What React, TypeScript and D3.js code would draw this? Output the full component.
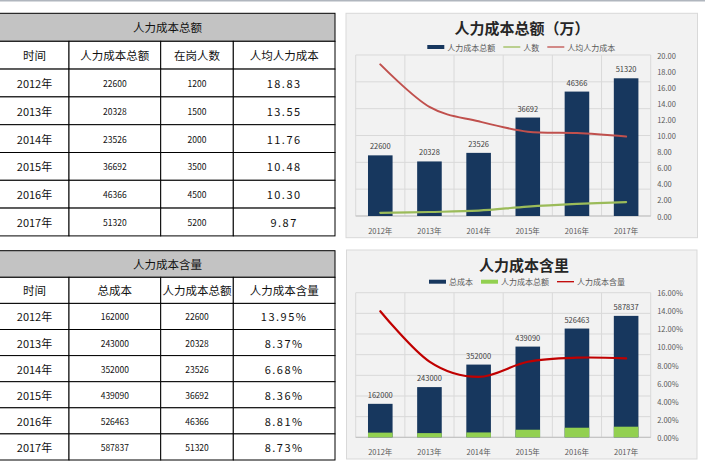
import React from "react";
import * as d3 from "d3";

const years = ["2012年", "2013年", "2014年", "2015年", "2016年", "2017年"];
const hrTotal = [22600, 20328, 23526, 36692, 46366, 51320];
const headcount = [1200, 1500, 2000, 3500, 4500, 5200];
const perCapita = [18.83, 13.55, 11.76, 10.48, 10.3, 9.87];
const totalCost = [162000, 243000, 352000, 439090, 526463, 587837];
const hrShare = [13.95, 8.37, 6.68, 8.36, 8.81, 8.73];

const table1Title = "人力成本总额";
const table1Headers = ["时间", "人力成本总额", "在岗人数", "人均人力成本"];
const table2Title = "人力成本含量";
const table2Headers = ["时间", "总成本", "人力成本总额", "人力成本含量"];

const chart1Title = "人力成本总额（万）";
const chart1Legend = ["人力成本总额", "人数", "人均人力成本"];
const chart2Title = "人力成本含里";
const chart2Legend = ["总成本", "人力成本总额", "人力成本含量"];

const FONT = "'Noto Sans CJK SC', 'Noto Sans', sans-serif";
const NAVY = "#17375e";
const OLIVE = "#9bbb59";
const GREEN = "#92d050";
const RED1 = "#c0504d";
const RED2 = "#c00000";
const GRID = "#d9d9d9";
const TXT = "#595959";

type Cell = { text: string; size: number; ls?: number };

function Table({ top, titleH, rowH, title, headers, rows }: { top: number; titleH: number; rowH: number; title: string; headers: string[]; rows: Cell[][] }) {
  const cols = [-1, 69, 160.7, 233.3, 335];
  const allRows: Cell[][] = [headers.map((h) => ({ text: h, size: 11.5 })), ...rows];
  const bodyTop = top + titleH;
  return (
    <g fontFamily={FONT}>
      <rect x={cols[0]} y={top} width={cols[4] - cols[0]} height={titleH} fill="#c3c3c3" stroke="#000" strokeWidth={1} />
      <text x={(0 + cols[4]) / 2} y={top + titleH / 2} fontSize={11.5} textAnchor="middle" dominantBaseline="central" fill="#111">{title}</text>
      {allRows.map((r, i) => (
        <g key={i}>
          {r.map((c, j) => (
            <g key={j}>
              <rect x={cols[j]} y={bodyTop + i * rowH} width={cols[j + 1] - cols[j]} height={rowH} fill="#fff" stroke="#000" strokeWidth={1} />
              <text x={(Math.max(cols[j], 0) + cols[j + 1]) / 2} y={bodyTop + i * rowH + rowH / 2} fontSize={c.size} letterSpacing={c.ls ?? 0} textAnchor="middle" dominantBaseline="central" fill="#111">{c.text}</text>
            </g>
          ))}
        </g>
      ))}
    </g>
  );
}

type Series =
  | { kind: "bar"; values: number[]; color: string; axis: "p"; labels?: boolean }
  | { kind: "line"; values: number[]; color: string; axis: "p" | "s"; width: number };

function Chart(props: {
  box: { x: number; y: number; w: number; h: number };
  plot: { l: number; r: number; t: number; b: number };
  title: string; titleY: number; titleX: number;
  legend: string[]; legendKinds: { kind: "bar" | "line"; color: string }[]; legendX: number; legendY: number;
  pMax: number; pStep: number; sMax: number; sStep: number; sFmt: (v: number) => string;
  series: Series[];
}) {
  const { box, plot } = props;
  const x = d3.scaleBand<string>().domain(years).range([plot.l, plot.r]).paddingInner(0.5).paddingOuter(0.25);
  const step = x.step();
  const yP = d3.scaleLinear().domain([0, props.pMax]).range([plot.b, plot.t]);
  const yS = d3.scaleLinear().domain([0, props.sMax]).range([plot.b, plot.t]);
  const pTicks = d3.range(0, props.pMax + 1e-9, props.pStep);
  const sTicks = d3.range(0, props.sMax + 1e-9, props.sStep);
  const cx = (d: string) => (x(d) as number) + x.bandwidth() / 2;
  const bounds = years.map((d) => (x(d) as number) + x.bandwidth() / 2 - step / 2).concat([plot.r]);

  const fs = 8;
  let lx = props.legendX;
  const items = props.legend.map((t, i) => {
    const it = { sx: lx, tx: lx + 20, t, ...props.legendKinds[i] };
    lx += 20 + t.length * fs + 8;
    return it;
  });

  return (
    <g fontFamily={FONT}>
      <rect x={box.x} y={box.y} width={box.w} height={box.h} fill="#f2f2f2" stroke="#d9d9d9" strokeWidth={1} />
      <text x={props.titleX} y={props.titleY} fontSize={15} fontWeight="bold" textAnchor="middle" dominantBaseline="central" fill="#262626">{props.title}</text>
      {items.map((it, i) => (
        <g key={i}>
          {it.kind === "bar" ? (
            <rect x={it.sx} y={props.legendY - 2} width={17} height={4} fill={it.color} />
          ) : (
            <line x1={it.sx} x2={it.sx + 17} y1={props.legendY} y2={props.legendY} stroke={it.color} strokeWidth={1.3} />
          )}
          <text x={it.tx} y={props.legendY} fontSize={fs} dominantBaseline="central" fill={TXT}>{it.t}</text>
        </g>
      ))}
      {pTicks.map((t) => (
        <line key={t} x1={plot.l} x2={plot.r} y1={yP(t)} y2={yP(t)} stroke={GRID} strokeWidth={1} />
      ))}
      {bounds.map((b, i) => (
        <line key={i} x1={b} x2={b} y1={plot.t} y2={plot.b} stroke={GRID} strokeWidth={1} />
      ))}
      <line x1={plot.l} x2={plot.r} y1={plot.b} y2={plot.b} stroke="#bfbfbf" strokeWidth={1} />
      {sTicks.map((t) => (
        <text key={t} x={plot.r + 6.5} y={yS(t)} fontSize={7.5} dominantBaseline="central" fill={TXT}>{props.sFmt(t)}</text>
      ))}
      {years.map((d) => (
        <text key={d} x={cx(d)} y={plot.b + 14.5} fontSize={7.5} textAnchor="middle" dominantBaseline="central" fill={TXT}>{d}</text>
      ))}
      {props.series.map((s, si) => {
        if (s.kind === "bar") {
          return (
            <g key={si}>
              {s.values.map((v, i) => (
                <rect key={i} x={x(years[i])} y={yP(v)} width={x.bandwidth()} height={plot.b - yP(v)} fill={s.color} />
              ))}
              {s.labels && s.values.map((v, i) => (
                <text key={"l" + i} x={cx(years[i])} y={yP(v) - 9.5} fontSize={7.5} textAnchor="middle" dominantBaseline="central" fill="#404040">{v}</text>
              ))}
            </g>
          );
        }
        const ys = s.axis === "p" ? yP : yS;
        const line = d3.line<number>().x((_, i) => cx(years[i])).y((v) => ys(v)).curve(d3.curveCardinal.tension(0));
        return <path key={si} d={line(s.values) || ""} fill="none" stroke={s.color} strokeWidth={s.width} strokeLinecap="round" />;
      })}
    </g>
  );
}

export default function App() {
  const rows1: Cell[][] = years.map((y, i) => [
    { text: y, size: 11 },
    { text: String(hrTotal[i]), size: 8.5 },
    { text: String(headcount[i]), size: 8.5 },
    { text: perCapita[i].toFixed(2), size: 11, ls: 1.5 },
  ]);
  const rows2: Cell[][] = years.map((y, i) => [
    { text: y, size: 11 },
    { text: String(totalCost[i]), size: 8.5 },
    { text: String(hrTotal[i]), size: 8.5 },
    { text: hrShare[i].toFixed(2) + "%", size: 11, ls: 1.5 },
  ]);
  return (
    <svg width={705} height={465} style={{ position: "absolute", left: 0, top: 0, background: "#fff" }}>
      <rect x={0} y={0} width={705} height={1.5} fill="#b0b6be" />
      <Table top={13.3} titleH={28} rowH={27.8} title={table1Title} headers={table1Headers} rows={rows1} />
      <Table top={250.7} titleH={26.6} rowH={26.1} title={table2Title} headers={table2Headers} rows={rows2} />
      <Chart
        box={{ x: 346, y: 13.3, w: 351.5, h: 224.4 }}
        plot={{ l: 355.7, r: 650.7, t: 55, b: 216 }}
        title={chart1Title} titleX={522} titleY={27}
        legend={chart1Legend}
        legendKinds={[{ kind: "bar", color: NAVY }, { kind: "line", color: OLIVE }, { kind: "line", color: RED1 }]}
        legendX={427.3} legendY={47}
        pMax={60000} pStep={10000} sMax={20} sStep={2} sFmt={(v) => v.toFixed(2)}
        series={[
          { kind: "bar", values: hrTotal, color: NAVY, axis: "p", labels: true },
          { kind: "line", values: headcount, color: OLIVE, axis: "p", width: 2.2 },
          { kind: "line", values: perCapita, color: RED1, axis: "s", width: 2 },
        ]}
      />
      <Chart
        box={{ x: 346.5, y: 250, w: 350.5, h: 209 }}
        plot={{ l: 355.7, r: 650.7, t: 292.7, b: 437.3 }}
        title={chart2Title} titleX={524} titleY={264}
        legend={chart2Legend}
        legendKinds={[{ kind: "bar", color: NAVY }, { kind: "bar", color: GREEN }, { kind: "line", color: RED2 }]}
        legendX={429} legendY={281.7}
        pMax={700000} pStep={100000} sMax={16} sStep={2} sFmt={(v) => v.toFixed(2) + "%"}
        series={[
          { kind: "bar", values: totalCost, color: NAVY, axis: "p", labels: true },
          { kind: "bar", values: hrTotal, color: GREEN, axis: "p" },
          { kind: "line", values: hrShare, color: RED2, axis: "s", width: 2.2 },
        ]}
      />
    </svg>
  );
}
